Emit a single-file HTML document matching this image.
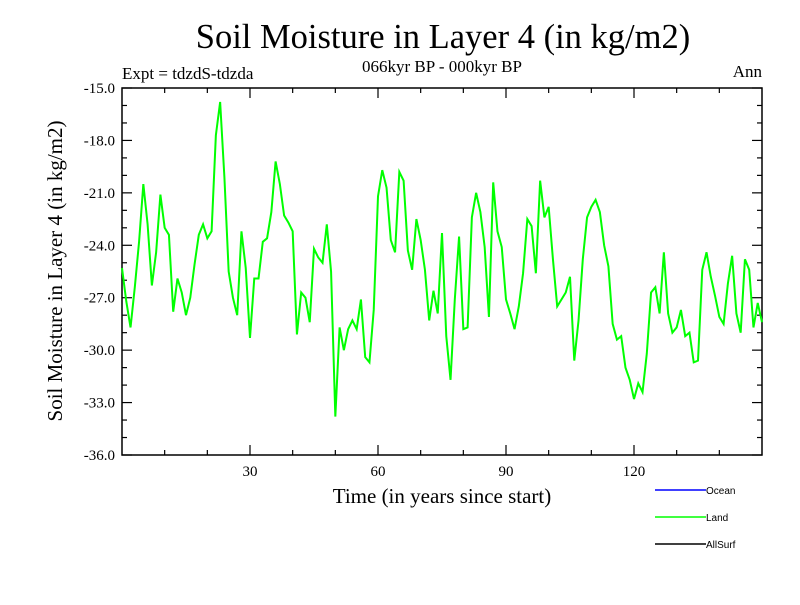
<!DOCTYPE html>
<html><head><meta charset="utf-8"><style>
body{margin:0;background:#fff}
svg text{font-family:"Liberation Serif",serif}
</style></head><body>
<svg id="chart" width="800" height="600" xmlns="http://www.w3.org/2000/svg">
<rect width="800" height="600" fill="#fff"/>
<text x="443" y="48" font-size="34.5" text-anchor="middle">Soil Moisture in Layer 4 (in kg/m2)</text>
<text x="122" y="79" font-size="17">Expt = tdzdS-tdzda</text>
<text x="442" y="72" font-size="17" text-anchor="middle">066kyr BP - 000kyr BP</text>
<text x="762" y="77" font-size="17" text-anchor="end">Ann</text>
<text transform="translate(62,271) rotate(-90)" font-size="21" text-anchor="middle">Soil Moisture in Layer 4 (in kg/m2)</text>
<text x="442" y="503" font-size="21" text-anchor="middle">Time (in years since start)</text>
<g id="axes"></g>
<g id="series"></g>
<g>
<line x1="655" y1="490" x2="706" y2="490" stroke="#0000ff" stroke-width="1.5"/>
<text x="706" y="494" font-size="10" style="font-family:'Liberation Sans',sans-serif">Ocean</text>
<line x1="655" y1="517" x2="706" y2="517" stroke="#00ff00" stroke-width="1.5"/>
<text x="706" y="521" font-size="10" style="font-family:'Liberation Sans',sans-serif">Land</text>
<line x1="655" y1="544" x2="706" y2="544" stroke="#000" stroke-width="1.5"/>
<text x="706" y="548" font-size="10" style="font-family:'Liberation Sans',sans-serif">AllSurf</text>
</g>
</svg>
<script>
const yTickLabels=["-15.0","-18.0","-21.0","-24.0","-27.0","-30.0","-33.0","-36.0"];
const xTickLabels=[30,60,90,120];
const landValues=[-25.3,-27.2,-28.7,-26.4,-23.8,-20.5,-22.8,-26.3,-24.4,-21.1,-23.0,-23.4,-27.8,-25.9,-26.7,-28.0,-27.0,-25.1,-23.4,-22.8,-23.6,-23.2,-17.7,-15.8,-20.1,-25.5,-27.0,-28.0,-23.2,-25.3,-29.3,-25.9,-25.9,-23.8,-23.6,-22.1,-19.2,-20.5,-22.3,-22.7,-23.2,-29.1,-26.7,-27.0,-28.4,-24.2,-24.7,-25.0,-22.8,-25.5,-33.8,-28.7,-30.0,-28.8,-28.3,-28.8,-27.1,-30.4,-30.7,-27.7,-21.2,-19.7,-20.7,-23.7,-24.4,-19.8,-20.3,-24.3,-25.4,-22.5,-23.7,-25.4,-28.3,-26.6,-27.9,-23.3,-29.2,-31.7,-27.1,-23.5,-28.8,-28.7,-22.4,-21.0,-22.1,-24.1,-28.1,-20.4,-23.2,-24.1,-27.1,-27.9,-28.8,-27.5,-25.6,-22.5,-22.9,-25.6,-20.3,-22.4,-21.8,-24.8,-27.5,-27.1,-26.7,-25.8,-30.6,-28.3,-24.8,-22.4,-21.8,-21.4,-22.1,-24.0,-25.2,-28.5,-29.4,-29.2,-31.0,-31.7,-32.8,-31.9,-32.4,-30.2,-26.7,-26.4,-27.9,-24.4,-27.9,-29.0,-28.7,-27.7,-29.2,-29.0,-30.7,-30.6,-25.4,-24.4,-25.8,-26.9,-28.1,-28.5,-26.2,-24.6,-27.9,-29.0,-24.8,-25.4,-28.7,-27.3,-28.4];
const X0=122,X1=762,Y0=88,Y1=455,XMIN=0,XMAX=150,YMIN=-36,YMAX=-15;
const sx=v=>X0+(v-XMIN)/(XMAX-XMIN)*(X1-X0);
const sy=v=>Y1-(v-YMIN)/(YMAX-YMIN)*(Y1-Y0);
const NS="http://www.w3.org/2000/svg";
function mk(tag,attrs,parent){const e=document.createElementNS(NS,tag);for(const k in attrs)e.setAttribute(k,attrs[k]);parent.appendChild(e);return e;}
const ax=document.getElementById('axes');
const frame=mk('rect',{x:X0,y:Y0,width:X1-X0,height:Y1-Y0,fill:'none',stroke:'#000','stroke-width':1.5},ax);


for(let v=-36;v<=-15;v+=1){const y=sy(v);const maj=(v%3===0);const L=maj?10:5;
mk('line',{x1:X0,y1:y,x2:X0+L,y2:y,stroke:'#000','stroke-width':1.2},ax);
mk('line',{x1:X1,y1:y,x2:X1-L,y2:y,stroke:'#000','stroke-width':1.2},ax);}
yTickLabels.forEach(s=>{const t=mk('text',{x:X0-7,y:sy(parseFloat(s))+5,'font-size':15,'text-anchor':'end'},ax);t.textContent=s;

});
for(let v=10;v<150;v+=10){const x=sx(v);const L=(v%30===0)?10:5;
mk('line',{x1:x,y1:Y1,x2:x,y2:Y1-L,stroke:'#000','stroke-width':1.2},ax);
mk('line',{x1:x,y1:Y0,x2:x,y2:Y0+L,stroke:'#000','stroke-width':1.2},ax);}
xTickLabels.forEach(v=>{const t=mk('text',{x:sx(v),y:Y1+21,'font-size':15,'text-anchor':'middle'},ax);t.textContent=v;

});
const pts=landValues.map((v,i)=>sx(i*(XMAX-XMIN)/(landValues.length-1))+','+sy(v)).join(' ');
const pl=mk('polyline',{points:pts,fill:'none',stroke:'#00ff00','stroke-width':2},document.getElementById('series'));


</script>
</body></html>
